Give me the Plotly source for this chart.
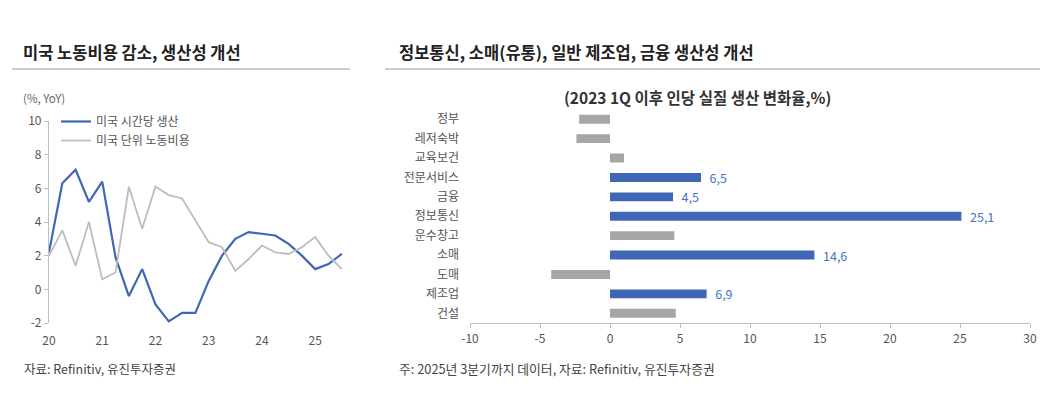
import plotly.graph_objects as go

W, H = 1060, 395
FONT = "Noto Sans CJK KR"

# ---------------- data: left chart ----------------
quarters = [20.0, 20.25, 20.5, 20.75, 21.0, 21.25, 21.5, 21.75, 22.0, 22.25, 22.5, 22.75,
            23.0, 23.25, 23.5, 23.75, 24.0, 24.25, 24.5, 24.75, 25.0, 25.25, 25.5]
productivity = [2.2, 6.3, 7.1, 5.2, 6.4, 1.9, -0.4, 1.2, -0.9, -1.9, -1.4, -1.4,
                0.5, 2.0, 3.0, 3.4, 3.3, 3.2, 2.7, 2.0, 1.2, 1.5, 2.1]
unit_labor_cost = [2.0, 3.5, 1.4, 4.0, 0.6, 1.0, 6.1, 3.6, 6.1, 5.6, 5.4, 4.1,
                   2.8, 2.5, 1.1, 1.8, 2.6, 2.2, 2.1, 2.5, 3.1, 2.0, 1.2]
year_ticks = [20, 21, 22, 23, 24, 25]
year_labels = ["20", "21", "22", "23", "24", "25"]
left_yticks = [-2, 0, 2, 4, 6, 8, 10]

# ---------------- data: right chart ----------------
sectors = ["정부", "레저숙박", "교육보건", "전문서비스", "금융", "정보통신",
           "운수창고", "소매", "도매", "제조업", "건설"]
sector_change = [-2.2, -2.4, 1.0, 6.5, 4.5, 25.1, 4.6, 14.6, -4.2, 6.9, 4.7]
highlight = [False, False, False, True, True, True, False, True, False, True, False]
right_xticks = [-10, -5, 0, 5, 10, 15, 20, 25, 30]

BLUE = "#3F67B5"
GRAY_LINE = "#BDBDBD"
GRAY_BAR = "#A6A6A6"
AXIS = "#BFBFBF"
TICKF = dict(family=FONT, size=12, color="#555555")

def px(x):
    return x / W

def py(y):
    return 1 - y / H

# layout geometry (paper fractions)
L_X = [px(49), px(345)]
L_Y = [py(323), py(121)]
R_X = [px(470), px(1030)]
R_Y = [py(323), py(109.5)]
L_RANGE = [20, 25.56]
L_YR = [-2, 10]
R_RANGE = [-10, 30]

fig = go.Figure()

fig.add_trace(go.Scatter(x=quarters, y=productivity, mode="lines", name="미국 시간당 생산",
                         line=dict(color=BLUE, width=2.2), xaxis="x", yaxis="y"))
fig.add_trace(go.Scatter(x=quarters, y=unit_labor_cost, mode="lines", name="미국 단위 노동비용",
                         line=dict(color=GRAY_LINE, width=1.8), xaxis="x", yaxis="y"))

bar_colors = [BLUE if h else GRAY_BAR for h in highlight]
bar_text = [("  " + f"{v:.1f}".replace(".", ",")) if h else "" for v, h in zip(sector_change, highlight)]
fig.add_trace(go.Bar(y=sectors, x=sector_change, orientation="h", marker=dict(color=bar_colors, line=dict(width=0)),
                     text=bar_text, textposition="outside", cliponaxis=False, constraintext="none",
                     textfont=dict(family=FONT, size=12.5, color="#4472C4"),
                     showlegend=False, xaxis="x2", yaxis="y2", hoverinfo="x+y"))

zero_pos_left = L_Y[0] + (L_Y[1] - L_Y[0]) * (0 - L_YR[0]) / (L_YR[1] - L_YR[0])
zero_pos_right = R_X[0] + (R_X[1] - R_X[0]) * (0 - R_RANGE[0]) / (R_RANGE[1] - R_RANGE[0])
n = len(sectors)
boundaries = [i + 0.5 for i in range(n - 1)]

fig.update_layout(
    width=W, height=H, margin=dict(l=0, r=0, t=0, b=0, autoexpand=False),
    paper_bgcolor="white", plot_bgcolor="white",
    font=dict(family=FONT, color="#555555"),
    bargap=0.54,
    showlegend=True,
    legend=dict(x=px(56), y=py(107), xanchor="left", yanchor="top", bgcolor="rgba(0,0,0,0)",
                font=dict(family=FONT, size=12, color="#555555"), tracegroupgap=0),
    xaxis=dict(domain=L_X, range=L_RANGE, tickvals=year_ticks, ticktext=year_labels,
               showline=False, showgrid=False, zeroline=False, ticks="", tickfont=TICKF,
               ticklabelstandoff=9, anchor="y", fixedrange=True, automargin=False),
    yaxis=dict(domain=L_Y, range=L_YR, tickvals=left_yticks, ticktext=[str(v) for v in left_yticks],
               showline=True, linecolor=AXIS, linewidth=1.2,
               ticks="outside", ticklen=4, tickcolor=AXIS, showgrid=False, zeroline=False,
               tickfont=TICKF, anchor="x", fixedrange=True, automargin=False),
    xaxis3=dict(overlaying="x", range=L_RANGE, anchor="free", position=zero_pos_left, side="bottom",
                tickvals=year_ticks, showticklabels=False, showline=True, linecolor=AXIS, linewidth=1.2,
                ticks="outside", ticklen=3, tickcolor=AXIS, showgrid=False, zeroline=False,
                fixedrange=True, automargin=False),
    xaxis2=dict(domain=R_X, range=R_RANGE, tickvals=right_xticks, ticktext=[str(v) for v in right_xticks],
                showline=True, linecolor=AXIS, linewidth=1.2,
                ticks="outside", ticklen=4, tickcolor=AXIS, showgrid=False, zeroline=False,
                tickfont=TICKF, anchor="y2", fixedrange=True, automargin=False),
    yaxis2=dict(domain=R_Y, type="category", categoryarray=sectors, range=[n - 0.5, -0.5],
                showline=False, ticks="", showgrid=False, zeroline=False, ticklabelstandoff=10,
                tickfont=dict(family=FONT, size=12, color="#555555"), anchor="x2",
                fixedrange=True, automargin=False),
    yaxis4=dict(overlaying="y2", range=[n - 0.5, -0.5], anchor="free", position=zero_pos_right, side="left",
                tickvals=boundaries, showticklabels=False, showline=True, linecolor=AXIS, linewidth=1.2,
                ticks="outside", ticklen=3, tickcolor=AXIS, showgrid=False, zeroline=False,
                fixedrange=True, automargin=False),
)

# headers, separators, notes
fig.add_annotation(text="<b>미국 노동비용 감소, 생산성 개선</b>", xref="paper", yref="paper",
                   x=px(21), y=py(52), xanchor="left", yanchor="middle", showarrow=False,
                   font=dict(family=FONT, size=16.5, color="#222222"))
fig.add_annotation(text="<b>정보통신, 소매(유통), 일반 제조업, 금융 생산성 개선</b>", xref="paper", yref="paper",
                   x=px(397), y=py(52), xanchor="left", yanchor="middle", showarrow=False,
                   font=dict(family=FONT, size=16.5, color="#222222"))
fig.add_annotation(text="(%, YoY)", xref="paper", yref="paper", x=px(21), y=py(98),
                   xanchor="left", yanchor="middle", showarrow=False,
                   font=dict(family=FONT, size=11.5, color="#666666"))
fig.add_annotation(text="<b>(2023 1Q 이후 인당 실질 생산 변화율,%)</b>", xref="paper", yref="paper",
                   x=px(697), y=py(97), xanchor="center", yanchor="middle", showarrow=False,
                   font=dict(family=FONT, size=15.5, color="#333333"))
fig.add_annotation(text="자료: Refinitiv, 유진투자증권", xref="paper", yref="paper", x=px(22), y=py(368),
                   xanchor="left", yanchor="middle", showarrow=False,
                   font=dict(family=FONT, size=12.5, color="#444444"))
fig.add_annotation(text="주: 2025년 3분기까지 데이터, 자료: Refinitiv, 유진투자증권", xref="paper", yref="paper",
                   x=px(397), y=py(368), xanchor="left", yanchor="middle", showarrow=False,
                   font=dict(family=FONT, size=12.8, color="#444444"))

fig.add_shape(type="line", xref="paper", yref="paper", x0=px(12), x1=px(350), y0=py(69), y1=py(69),
              line=dict(color="#CCCCCC", width=2))
fig.add_shape(type="line", xref="paper", yref="paper", x0=px(385), x1=px(1040), y0=py(69), y1=py(69),
              line=dict(color="#CCCCCC", width=2))

fig.write_html("out.html", config={"displayModeBar": False},
               post_script="document.body.style.margin='0px';")
